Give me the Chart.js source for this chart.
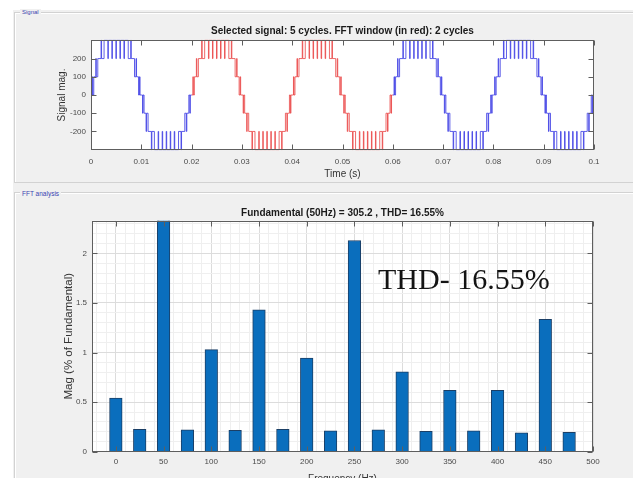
<!DOCTYPE html>
<html>
<head>
<meta charset="utf-8">
<script src="https://cdn.jsdelivr.net/npm/chart.js@4/dist/chart.umd.min.js"></script>
<style>
  html, body { margin: 0; padding: 0; }
  body { width: 633px; height: 478px; overflow: hidden; background: #ffffff; position: relative; font-family: 'Liberation Sans', Arial, sans-serif; }
  .bg { position: absolute; left: 13px; top: 10px; width: 620px; height: 468px; background: #f0f0f0; }
  .panel { position: absolute; border: 1px solid #d2d2d2; box-shadow: inset 1px 1px 0 #ffffff; }
  .plabel { position: absolute; background: #f0f0f0; color: #3b44b0; padding: 0 2px; line-height: 1; }
  canvas { position: absolute; left: 0; }
  .thd { position: absolute; left: 378px; top: 264px; font-family: 'Liberation Serif', 'Times New Roman', serif; font-size: 30px; line-height: 30px; color: #141414; white-space: nowrap; }
</style>
</head>
<body>
<div class="bg"></div>
<div class="panel" style="left:14px; top:12px; width:640px; height:169px;"></div>
<div class="plabel" style="left:20px; top:9px; font-size:6px;">Signal</div>
<div class="panel" style="left:14px; top:192px; width:640px; height:300px;"></div>
<div class="plabel" style="left:20px; top:191px; font-size:6.5px;">FFT analysis</div>
<canvas id="sig" width="633" height="185" style="top:0px;"></canvas>
<canvas id="fft" width="633" height="300" style="top:185px;"></canvas>
<div class="thd">THD- 16.55%</div>
<script>
// ---------- Signal panel data ----------
// One cycle (20 ms) of the multilevel staircase:
// breakpoints in ms and the level (V) held from that instant on.
const cycleTimesMs = [0, 0.25, 0.35, 0.55, 0.95, 1.05, 1.35, 2.0, 2.1, 2.6,
  3.35, 3.45, 4.15, 4.25, 4.95, 5.05, 5.75, 5.85, 6.55, 6.65,
  7.4, 7.9, 8.0, 8.65, 8.95, 9.05, 9.45, 9.65, 9.75,
  10.0, 10.25, 10.35, 10.55, 10.95, 11.05, 11.35, 12.0, 12.1, 12.6,
  13.35, 13.45, 14.15, 14.25, 14.95, 15.05, 15.75, 15.85, 16.55, 16.65,
  17.4, 17.9, 18.0, 18.65, 18.95, 19.05, 19.45, 19.65, 19.75, 20.0];
const cycleLevels = [0, 100, 0, 100, 200, 100, 200, 300, 200, 300,
  200, 300, 200, 300, 200, 300, 200, 300, 200, 300,
  200, 300, 200, 100, 200, 100, 0, 100, 0,
  0, -100, 0, -100, -200, -100, -200, -300, -200, -300,
  -200, -300, -200, -300, -200, -300, -200, -300, -200, -300,
  -200, -300, -200, -100, -200, -100, 0, -100, 0, 0];
const cycleStarts = [0, 0.02, 0.04, 0.06, 0.08];
const cycleInFftWindow = [false, true, true, false, false];
const timeTicks = [0, 0.01, 0.02, 0.03, 0.04, 0.05, 0.06, 0.07, 0.08, 0.09, 0.1];
const signalTicks = [-200, -100, 0, 100, 200];
const signalTitle = 'Selected signal: 5 cycles. FFT window (in red): 2 cycles';

// ---------- FFT panel data ----------
const freqsHz = [0, 25, 50, 75, 100, 125, 150, 175, 200, 225, 250, 275, 300, 325, 350, 375, 400, 425, 450, 475];
const magPct = [0.54, 0.225, 100, 0.22, 1.03, 0.215, 1.43, 0.225, 0.945, 0.21, 2.13, 0.22, 0.805, 0.205, 0.62, 0.21, 0.62, 0.19, 1.335, 0.195];
const freqMajorTicks = [0, 50, 100, 150, 200, 250, 300, 350, 400, 450, 500];
const magMajorTicks = [0, 0.5, 1, 1.5, 2];
const fftTitle = 'Fundamental (50Hz) = 305.2 , THD= 16.55%';

const FONT = "'Liberation Sans', Arial, sans-serif";
const BLUE = 'rgba(55,55,228,0.8)';
const RED = 'rgba(232,55,55,0.75)';

// MATLAB-like axes box: white plot area, dark frame, inward ticks on all sides
const matlabBox = {
  id: 'matlabBox',
  beforeDraw(chart) {
    const a = chart.chartArea, ctx = chart.ctx;
    ctx.save();
    ctx.fillStyle = '#ffffff';
    ctx.fillRect(a.left, a.top, a.right - a.left, a.bottom - a.top);
    ctx.restore();
  },
  afterDatasetsDraw(chart, args, opts) {
    const a = chart.chartArea, ctx = chart.ctx;
    const xs = chart.scales.x, ys = chart.scales.y;
    const L = Math.round(a.left) + 0.5, R = Math.round(a.right) - 0.5;
    const T = Math.round(a.top) + 0.5, B = Math.round(a.bottom) - 0.5;
    const len = opts.len || 5;
    ctx.save();
    ctx.strokeStyle = opts.color || '#5e5e5e';
    ctx.lineWidth = 1;
    ctx.beginPath();
    (opts.xTicks || []).forEach(v => {
      const px = Math.round(xs.getPixelForValue(v)) + 0.5;
      ctx.moveTo(px, B); ctx.lineTo(px, B - len);
      ctx.moveTo(px, T); ctx.lineTo(px, T + len);
    });
    (opts.yTicks || []).forEach(v => {
      const py = Math.round(ys.getPixelForValue(v)) + 0.5;
      ctx.moveTo(L, py); ctx.lineTo(L + len, py);
      ctx.moveTo(R, py); ctx.lineTo(R - len, py);
    });
    ctx.stroke();
    ctx.strokeRect(L, T, R - L, B - T);
    ctx.restore();
  }
};

// ---------- Signal chart ----------
const sigDatasets = cycleStarts.map((start, i) => ({
  data: cycleTimesMs.map((ms, j) => ({ x: start + ms / 1000, y: cycleLevels[j] })),
  stepped: true,
  borderColor: cycleInFftWindow[i] ? RED : BLUE,
  borderWidth: 1,
  pointRadius: 0,
  fill: false,
  clip: 1
}));

new Chart(document.getElementById('sig'), {
  type: 'line',
  data: { datasets: sigDatasets },
  options: {
    responsive: false, animation: false, events: [],
    layout: { padding: { left: 52, right: 0, top: 0, bottom: 5 } },
    plugins: {
      legend: { display: false }, tooltip: { enabled: false },
      title: { display: true, text: signalTitle, color: '#1a1a1a',
        font: { family: FONT, size: 10, weight: 'bold' }, padding: { top: 25.5, bottom: 2.5 } },
      matlabBox: { xTicks: timeTicks, yTicks: signalTicks, len: 5 }
    },
    scales: {
      x: { type: 'linear', min: 0, max: 0.1, offset: false,
        afterBuildTicks: s => { s.ticks = timeTicks.map(v => ({ value: v })); },
        afterFit: s => { s.height = 30; },
        ticks: { autoSkip: false, maxRotation: 0, padding: 7, color: '#4a4a4a', font: { family: FONT, size: 8 }, callback: v => String(v) },
        grid: { display: false, drawTicks: false }, border: { display: false },
        title: { display: true, text: 'Time (s)', color: '#333', font: { family: FONT, size: 10 }, padding: { top: 0, bottom: 0 } } },
      y: { type: 'linear', position: 'left', min: -302, max: 302,
        afterBuildTicks: s => { s.ticks = signalTicks.map(v => ({ value: v })); },
        afterFit: s => { s.width = 39; },
        ticks: { autoSkip: false, padding: 5, color: '#4a4a4a', font: { family: FONT, size: 8 }, callback: v => String(v) },
        grid: { display: false, drawTicks: false }, border: { display: false },
        title: { display: true, text: 'Signal mag.', color: '#333', font: { family: FONT, size: 10 }, padding: { top: 4, bottom: 0 } } },
      yr: { type: 'linear', position: 'right', min: -302, max: 302,
        afterFit: s => { s.width = 39; },
        ticks: { display: false }, grid: { display: false, drawTicks: false }, border: { display: false } }
    }
  },
  plugins: [matlabBox]
});

// ---------- FFT chart ----------
const isMajor = (arr, v) => arr.some(m => Math.abs(m - v) < 1e-9);
const freqGridTicks = []; for (let f = -20; f <= 500; f += 10) freqGridTicks.push(f);
const magGridTicks = []; for (let k = 0; k <= 23; k++) magGridTicks.push(k / 10);

new Chart(document.getElementById('fft'), {
  type: 'bar',
  data: { datasets: [{
    data: freqsHz.map((f, i) => ({ x: f, y: magPct[i] })),
    backgroundColor: '#0a6ebd', borderColor: '#1b3f66', borderWidth: 1,
    barThickness: 12.6, clip: 0
  }] },
  options: {
    responsive: false, animation: false, events: [],
    layout: { padding: { left: 52, right: 0, top: 0, bottom: 0 } },
    plugins: {
      legend: { display: false }, tooltip: { enabled: false },
      title: { display: true, text: fftTitle, color: '#1a1a1a',
        font: { family: FONT, size: 10, weight: 'bold' }, padding: { top: 22.3, bottom: 1.4 } },
      matlabBox: { xTicks: freqMajorTicks, yTicks: magMajorTicks, len: 5 }
    },
    scales: {
      x: { type: 'linear', min: -25, max: 500, offset: false,
        afterBuildTicks: s => { s.ticks = freqGridTicks.map(v => ({ value: v })); },
        afterFit: s => { s.height = 33.3; },
        ticks: { autoSkip: false, maxRotation: 0, padding: 5, color: '#4a4a4a', font: { family: FONT, size: 8 },
          callback: v => isMajor(freqMajorTicks, v) ? String(v) : '' },
        grid: { offset: false, drawTicks: false, lineWidth: 1,
          color: c => (c.tick && isMajor(freqMajorTicks, c.tick.value)) ? '#dcdcdc' : '#efefef' },
        border: { display: false },
        title: { display: true, text: 'Frequency (Hz)', color: '#333', font: { family: FONT, size: 10 }, padding: { top: 0, bottom: 0 } } },
      y: { type: 'linear', position: 'left', min: 0, max: 2.33,
        afterBuildTicks: s => { s.ticks = magGridTicks.map(v => ({ value: v })); },
        afterFit: s => { s.width = 40; },
        ticks: { autoSkip: false, padding: 5, color: '#4a4a4a', font: { family: FONT, size: 8 },
          callback: v => isMajor(magMajorTicks, v) ? String(v) : '' },
        grid: { drawTicks: false, lineWidth: 1,
          color: c => (c.tick && isMajor(magMajorTicks, c.tick.value)) ? '#dcdcdc' : '#efefef' },
        border: { display: false },
        title: { display: true, text: 'Mag (% of Fundamental)', color: '#333', font: { family: FONT, size: 11.5 }, padding: { top: 9.5, bottom: 0 } } },
      yr: { type: 'linear', position: 'right', min: 0, max: 2.33,
        afterFit: s => { s.width = 40; },
        ticks: { display: false }, grid: { display: false, drawTicks: false }, border: { display: false } }
    }
  },
  plugins: [matlabBox]
});
</script>
</body>
</html>
